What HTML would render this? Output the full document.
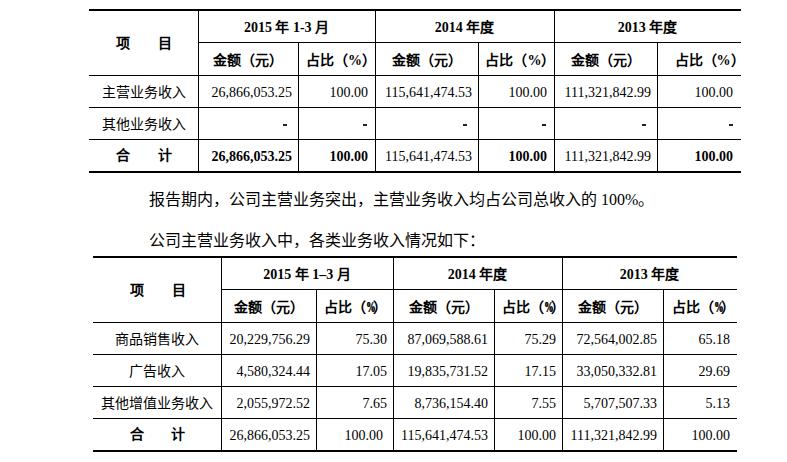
<!DOCTYPE html>
<html lang="zh-CN"><head><meta charset="utf-8"><style>
html,body{margin:0;padding:0;background:#fff;}
body{width:787px;height:462px;position:relative;overflow:hidden;font-family:"Liberation Serif",serif;color:#000;}
.l{position:absolute;background:#000;}
.t{position:absolute;white-space:nowrap;font-weight:300;}
.b{font-weight:bold;}
.np{display:inline-block;width:7px;transform:scaleX(0.66);transform-origin:0 0;text-shadow:0.7px 0 0 #000;}
</style></head><body>
<div class="l" style="left:89px;top:9px;width:652px;height:2px"></div>
<div class="l" style="left:89px;top:171px;width:652px;height:2px"></div>
<div class="l" style="left:198px;top:42px;width:543px;height:1px"></div>
<div class="l" style="left:89px;top:75px;width:652px;height:1px"></div>
<div class="l" style="left:89px;top:107px;width:652px;height:1px"></div>
<div class="l" style="left:89px;top:139px;width:652px;height:1px"></div>
<div class="l" style="left:198px;top:11px;width:1px;height:160px"></div>
<div class="l" style="left:375px;top:11px;width:1px;height:160px"></div>
<div class="l" style="left:554px;top:11px;width:1px;height:160px"></div>
<div class="l" style="left:298px;top:43px;width:1px;height:128px"></div>
<div class="l" style="left:478px;top:43px;width:1px;height:128px"></div>
<div class="l" style="left:657px;top:43px;width:1px;height:128px"></div>
<div class="t b" style="left:116px;top:37px;font-size:14px;line-height:14px;white-space:nowrap">项</div>
<div class="t b" style="left:158px;top:37px;font-size:14px;line-height:14px;white-space:nowrap">目</div>
<div class="t b" style="left:198px;top:12px;width:177px;height:32px;line-height:32px;font-size:14px;text-align:center;">2015 年 1-3 月</div>
<div class="t b" style="left:375px;top:12px;width:179px;height:32px;line-height:32px;font-size:14px;text-align:center;">2014 年度</div>
<div class="t b" style="left:554px;top:12px;width:187px;height:32px;line-height:32px;font-size:14px;text-align:center;">2013 年度</div>
<div class="t b" style="left:198px;top:44px;width:100px;height:33px;line-height:33px;font-size:14px;text-align:center;">金额（元）</div>
<div class="t b" style="left:302.5px;top:44px;width:77px;height:33px;line-height:33px;font-size:14px;text-align:center;">占比（%）</div>
<div class="t b" style="left:375px;top:44px;width:103px;height:33px;line-height:33px;font-size:14px;text-align:center;">金额（元）</div>
<div class="t b" style="left:482.4px;top:44px;width:76px;height:33px;line-height:33px;font-size:14px;text-align:center;">占比（%）</div>
<div class="t b" style="left:554px;top:44px;width:103px;height:33px;line-height:33px;font-size:14px;text-align:center;">金额（元）</div>
<div class="t b" style="left:667.6px;top:44px;width:84px;height:33px;line-height:33px;font-size:14px;text-align:center;">占比（%）</div>
<div class="t" style="left:89px;top:77px;width:109px;height:32px;line-height:32px;font-size:14px;text-align:center;">主营业务收入</div>
<div class="t" style="left:198px;top:77px;width:100px;height:32px;line-height:32px;font-size:14px;text-align:right;padding-right:6px;width:94px;">26,866,053.25</div>
<div class="t" style="left:298px;top:77px;width:77px;height:32px;line-height:32px;font-size:14px;text-align:right;padding-right:7px;width:70px;">100.00</div>
<div class="t" style="left:375px;top:77px;width:103px;height:32px;line-height:32px;font-size:14px;text-align:right;padding-right:6px;width:97px;">115,641,474.53</div>
<div class="t" style="left:478px;top:77px;width:76px;height:32px;line-height:32px;font-size:14px;text-align:right;padding-right:7px;width:69px;">100.00</div>
<div class="t" style="left:554px;top:77px;width:103px;height:32px;line-height:32px;font-size:14px;text-align:right;padding-right:6px;width:97px;">111,321,842.99</div>
<div class="t" style="left:657px;top:77px;width:84px;height:32px;line-height:32px;font-size:14px;text-align:right;padding-right:8px;width:76px;">100.00</div>
<div class="t" style="left:89px;top:109px;width:109px;height:32px;line-height:32px;font-size:14px;text-align:center;">其他业务收入</div>
<div class="l" style="left:283px;top:124px;width:4px;height:2px;background:#222"></div>
<div class="l" style="left:363px;top:124px;width:4px;height:2px;background:#222"></div>
<div class="l" style="left:463px;top:124px;width:4px;height:2px;background:#222"></div>
<div class="l" style="left:542px;top:124px;width:4px;height:2px;background:#222"></div>
<div class="l" style="left:642px;top:124px;width:4px;height:2px;background:#222"></div>
<div class="l" style="left:729px;top:124px;width:4px;height:2px;background:#222"></div>
<div class="t b" style="left:116px;top:149px;font-size:14px;line-height:14px;white-space:nowrap">合</div>
<div class="t b" style="left:158px;top:149px;font-size:14px;line-height:14px;white-space:nowrap">计</div>
<div class="t b" style="left:198px;top:141px;width:100px;height:32px;line-height:32px;font-size:14px;text-align:right;padding-right:6px;width:94px;">26,866,053.25</div>
<div class="t b" style="left:298px;top:141px;width:77px;height:32px;line-height:32px;font-size:14px;text-align:right;padding-right:7px;width:70px;">100.00</div>
<div class="t" style="left:375px;top:141px;width:103px;height:32px;line-height:32px;font-size:14px;text-align:right;padding-right:6px;width:97px;">115,641,474.53</div>
<div class="t b" style="left:478px;top:141px;width:76px;height:32px;line-height:32px;font-size:14px;text-align:right;padding-right:7px;width:69px;">100.00</div>
<div class="t" style="left:554px;top:141px;width:103px;height:32px;line-height:32px;font-size:14px;text-align:right;padding-right:6px;width:97px;">111,321,842.99</div>
<div class="t b" style="left:657px;top:141px;width:84px;height:32px;line-height:32px;font-size:14px;text-align:right;padding-right:8px;width:76px;">100.00</div>
<div class="t" style="left:149px;top:192px;font-size:16px;line-height:16px;white-space:nowrap">报告期内，公司主营业务突出，主营业务收入均占公司总收入的 100%。</div>
<div class="t" style="left:149px;top:233px;font-size:16px;line-height:16px;white-space:nowrap">公司主营业务收入中，各类业务收入情况如下：</div>
<div class="l" style="left:93px;top:256px;width:644px;height:2px"></div>
<div class="l" style="left:93px;top:450px;width:644px;height:2px"></div>
<div class="l" style="left:221px;top:289px;width:516px;height:1px"></div>
<div class="l" style="left:93px;top:322px;width:644px;height:1px"></div>
<div class="l" style="left:93px;top:354px;width:644px;height:1px"></div>
<div class="l" style="left:93px;top:386px;width:644px;height:1px"></div>
<div class="l" style="left:93px;top:418px;width:644px;height:1px"></div>
<div class="l" style="left:221px;top:258px;width:1px;height:192px"></div>
<div class="l" style="left:393px;top:258px;width:1px;height:192px"></div>
<div class="l" style="left:562px;top:258px;width:1px;height:192px"></div>
<div class="l" style="left:316px;top:290px;width:1px;height:160px"></div>
<div class="l" style="left:494px;top:290px;width:1px;height:160px"></div>
<div class="l" style="left:663px;top:290px;width:1px;height:160px"></div>
<div class="t b" style="left:130px;top:284px;font-size:14px;line-height:14px;white-space:nowrap">项</div>
<div class="t b" style="left:172px;top:284px;font-size:14px;line-height:14px;white-space:nowrap">目</div>
<div class="t b" style="left:221px;top:259px;width:172px;height:32px;line-height:32px;font-size:14px;text-align:center;">2015 年 1–3 月</div>
<div class="t b" style="left:393px;top:259px;width:169px;height:32px;line-height:32px;font-size:14px;text-align:center;">2014 年度</div>
<div class="t b" style="left:562px;top:259px;width:175px;height:32px;line-height:32px;font-size:14px;text-align:center;">2013 年度</div>
<div class="t b" style="left:221px;top:291px;width:95px;height:33px;line-height:33px;font-size:14px;text-align:center;">金额（元）</div>
<div class="t b" style="left:316.5px;top:291px;width:77px;height:33px;line-height:33px;font-size:14px;text-align:center;">占比（<span class="np">%</span>）</div>
<div class="t b" style="left:393px;top:291px;width:101px;height:33px;line-height:33px;font-size:14px;text-align:center;">金额（元）</div>
<div class="t b" style="left:499px;top:291px;width:68px;height:33px;line-height:33px;font-size:14px;text-align:center;">占比（<span class="np">%</span>）</div>
<div class="t b" style="left:562px;top:291px;width:101px;height:33px;line-height:33px;font-size:14px;text-align:center;">金额（元）</div>
<div class="t b" style="left:666px;top:291px;width:74px;height:33px;line-height:33px;font-size:14px;text-align:center;">占比（<span class="np">%</span>）</div>
<div class="t" style="left:93px;top:324px;width:128px;height:32px;line-height:32px;font-size:14px;text-align:center;">商品销售收入</div>
<div class="t" style="left:221px;top:324px;width:95px;height:32px;line-height:32px;font-size:14px;text-align:right;padding-right:6px;width:89px;">20,229,756.29</div>
<div class="t" style="left:316px;top:324px;width:77px;height:32px;line-height:32px;font-size:14px;text-align:right;padding-right:6px;width:71px;">75.30</div>
<div class="t" style="left:393px;top:324px;width:101px;height:32px;line-height:32px;font-size:14px;text-align:right;padding-right:6px;width:95px;">87,069,588.61</div>
<div class="t" style="left:494px;top:324px;width:68px;height:32px;line-height:32px;font-size:14px;text-align:right;padding-right:6px;width:62px;">75.29</div>
<div class="t" style="left:562px;top:324px;width:101px;height:32px;line-height:32px;font-size:14px;text-align:right;padding-right:6px;width:95px;">72,564,002.85</div>
<div class="t" style="left:663px;top:324px;width:74px;height:32px;line-height:32px;font-size:14px;text-align:right;padding-right:7px;width:67px;">65.18</div>
<div class="t" style="left:93px;top:356px;width:128px;height:32px;line-height:32px;font-size:14px;text-align:center;">广告收入</div>
<div class="t" style="left:221px;top:356px;width:95px;height:32px;line-height:32px;font-size:14px;text-align:right;padding-right:6px;width:89px;">4,580,324.44</div>
<div class="t" style="left:316px;top:356px;width:77px;height:32px;line-height:32px;font-size:14px;text-align:right;padding-right:6px;width:71px;">17.05</div>
<div class="t" style="left:393px;top:356px;width:101px;height:32px;line-height:32px;font-size:14px;text-align:right;padding-right:6px;width:95px;">19,835,731.52</div>
<div class="t" style="left:494px;top:356px;width:68px;height:32px;line-height:32px;font-size:14px;text-align:right;padding-right:6px;width:62px;">17.15</div>
<div class="t" style="left:562px;top:356px;width:101px;height:32px;line-height:32px;font-size:14px;text-align:right;padding-right:6px;width:95px;">33,050,332.81</div>
<div class="t" style="left:663px;top:356px;width:74px;height:32px;line-height:32px;font-size:14px;text-align:right;padding-right:7px;width:67px;">29.69</div>
<div class="t" style="left:93px;top:388px;width:128px;height:32px;line-height:32px;font-size:14px;text-align:center;">其他增值业务收入</div>
<div class="t" style="left:221px;top:388px;width:95px;height:32px;line-height:32px;font-size:14px;text-align:right;padding-right:6px;width:89px;">2,055,972.52</div>
<div class="t" style="left:316px;top:388px;width:77px;height:32px;line-height:32px;font-size:14px;text-align:right;padding-right:6px;width:71px;">7.65</div>
<div class="t" style="left:393px;top:388px;width:101px;height:32px;line-height:32px;font-size:14px;text-align:right;padding-right:6px;width:95px;">8,736,154.40</div>
<div class="t" style="left:494px;top:388px;width:68px;height:32px;line-height:32px;font-size:14px;text-align:right;padding-right:6px;width:62px;">7.55</div>
<div class="t" style="left:562px;top:388px;width:101px;height:32px;line-height:32px;font-size:14px;text-align:right;padding-right:6px;width:95px;">5,707,507.33</div>
<div class="t" style="left:663px;top:388px;width:74px;height:32px;line-height:32px;font-size:14px;text-align:right;padding-right:7px;width:67px;">5.13</div>
<div class="t b" style="left:130px;top:428px;font-size:14px;line-height:14px;white-space:nowrap">合</div>
<div class="t b" style="left:171px;top:428px;font-size:14px;line-height:14px;white-space:nowrap">计</div>
<div class="t" style="left:221px;top:420px;width:95px;height:32px;line-height:32px;font-size:14px;text-align:right;padding-right:6px;width:89px;">26,866,053.25</div>
<div class="t" style="left:316px;top:420px;width:77px;height:32px;line-height:32px;font-size:14px;text-align:right;padding-right:10px;width:67px;">100.00</div>
<div class="t" style="left:393px;top:420px;width:101px;height:32px;line-height:32px;font-size:14px;text-align:right;padding-right:6px;width:95px;">115,641,474.53</div>
<div class="t" style="left:494px;top:420px;width:68px;height:32px;line-height:32px;font-size:14px;text-align:right;padding-right:6px;width:62px;">100.00</div>
<div class="t" style="left:562px;top:420px;width:101px;height:32px;line-height:32px;font-size:14px;text-align:right;padding-right:6px;width:95px;">111,321,842.99</div>
<div class="t" style="left:663px;top:420px;width:74px;height:32px;line-height:32px;font-size:14px;text-align:right;padding-right:7px;width:67px;">100.00</div>
</body></html>
